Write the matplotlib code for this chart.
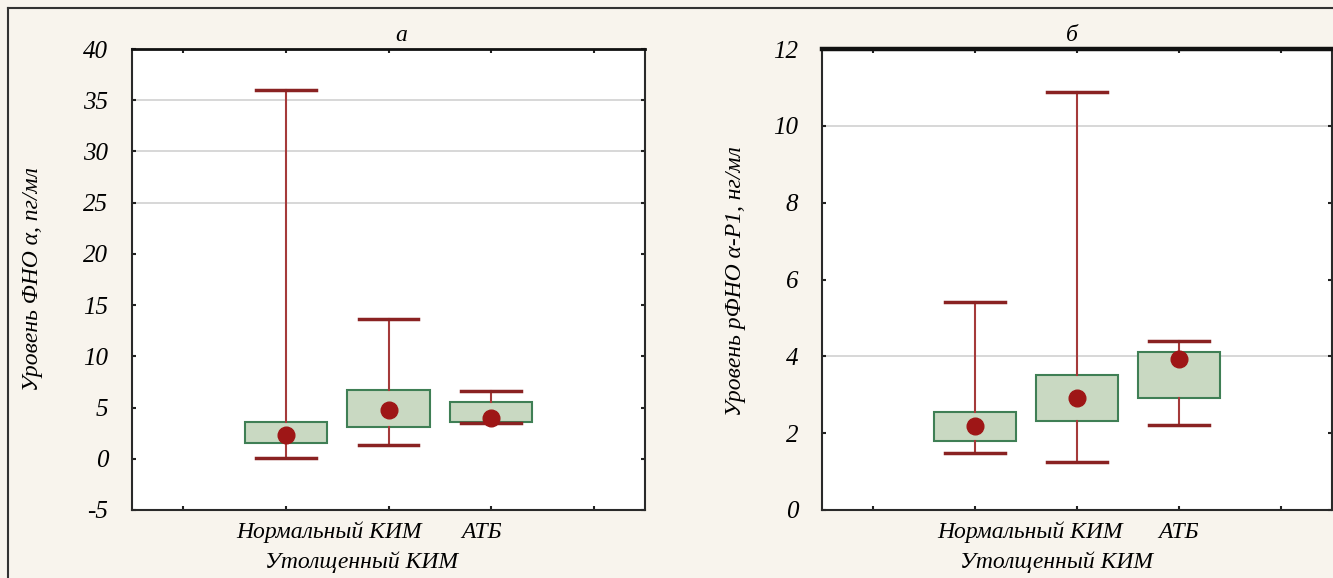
import matplotlib
matplotlib.use('Agg')
import matplotlib.pyplot as plt
from matplotlib.lines import Line2D
import matplotlib.transforms as mtransforms

plt.rcParams['font.family'] = ['Liberation Serif', 'DejaVu Serif']
plt.rcParams['font.style'] = 'italic'

# data
labels = ['Нормальный КИМ', 'Утолщенный КИМ', 'АТБ']
positions = [1, 2, 3]

a_med = [2.3, 4.8, 4.0]
a_q1 = [1.55, 3.07, 3.6]
a_q3 = [3.6, 6.75, 5.5]
a_min = [0.1, 1.3, 3.5]
a_max = [36.0, 13.6, 6.6]

b_med = [2.19, 2.92, 3.92]
b_q1 = [1.8, 2.31, 2.92]
b_q3 = [2.56, 3.51, 4.11]
b_min = [1.49, 1.25, 2.21]
b_max = [5.41, 10.88, 4.40]

a_ticks = list(range(-5, 41, 5))
b_ticks = list(range(0, 13, 2))
a_grid = [25, 30, 35]
b_grid = [4, 10]

# where the category names sit (data x), per panel
a_label_x = [1.42, 1.74, 2.91]
b_label_x = [1.54, 1.80, 3.0]

bg = '#f8f4ed'
box_face = '#c9d9c2'
box_edge = '#3f7f55'
whisk_col = '#a53a3a'
cap_col = '#8a2222'
dot_col = '#9e1616'

fig = plt.figure(figsize=(13.33, 5.78), dpi=100, facecolor=bg)

ax1 = fig.add_axes([132/1333, 68/578, 513/1333, 461/578])
ax2 = fig.add_axes([822/1333, 68/578, 510/1333, 461/578])


def draw(ax, med, q1, q3, lo, hi, ticks, grid, lab_x, title, title_x, top_lw):
    stats = []
    for i in range(len(med)):
        stats.append({'med': med[i], 'q1': q1[i], 'q3': q3[i],
                      'whislo': lo[i], 'whishi': hi[i], 'fliers': []})
    for g in grid:
        ax.axhline(g, color='#d4d4d4', lw=1.3, zorder=0)
    ax.bxp(stats, positions=positions, widths=0.8, capwidths=0.58,
           patch_artist=True, showfliers=False,
           boxprops=dict(facecolor=box_face, edgecolor=box_edge, lw=1.5),
           whiskerprops=dict(color=whisk_col, lw=1.5),
           capprops=dict(color=cap_col, lw=2.5),
           medianprops=dict(lw=0))
    ax.plot(positions, med, 'o', color=dot_col, markersize=12, zorder=5)

    ax.set_xlim(-0.5, 4.5)
    ax.set_ylim(ticks[0], ticks[-1])
    ax.set_yticks(ticks)
    ax.set_yticklabels([str(t) for t in ticks], fontsize=18, style='italic')
    ax.set_xticks([0, 1, 2, 3, 4])
    ax.set_xticklabels([])
    ax.tick_params(axis='both', direction='in', length=3, width=1.5,
                   color='#222222', top=True, right=True, pad=17)
    for s in ax.spines.values():
        s.set_color('#2a2a2a')
        s.set_linewidth(1.5)
    ax.spines['top'].set_linewidth(top_lw)
    ax.spines['top'].set_color('#111111')

    trans = mtransforms.blended_transform_factory(ax.transData, ax.transAxes)
    rows = [-0.048, -0.113, -0.048]
    for name, x, y in zip(labels, lab_x, rows):
        ax.text(x, y, name, transform=trans, ha='center', va='center',
                fontsize=17, style='italic')
    ax.set_title(title, x=title_x, fontsize=17, style='italic', pad=6)


draw(ax1, a_med, a_q1, a_q3, a_min, a_max, a_ticks, a_grid, a_label_x, 'а', 0.524, 2)
draw(ax2, b_med, b_q1, b_q3, b_min, b_max, b_ticks, b_grid, b_label_x, 'б', 0.49, 3.2)

fig.text(33/1333, 1 - 279/578, 'Уровень ФНО α, пг/мл', rotation=90,
         ha='center', va='center', fontsize=17, style='italic')
fig.text(735/1333, 1 - 281/578, 'Уровень рФНО α-Р1, нг/мл', rotation=90,
         ha='center', va='center', fontsize=17, style='italic')

# outer frame of the figure
fx = 8/1333
fy = 1 - 8/578
fig.add_artist(Line2D([fx, fx], [0, fy], transform=fig.transFigure, color='#333333', lw=1.5))
fig.add_artist(Line2D([fx, 1], [fy, fy], transform=fig.transFigure, color='#333333', lw=1.5))

fig.savefig('out.png', dpi=100, facecolor=bg)
